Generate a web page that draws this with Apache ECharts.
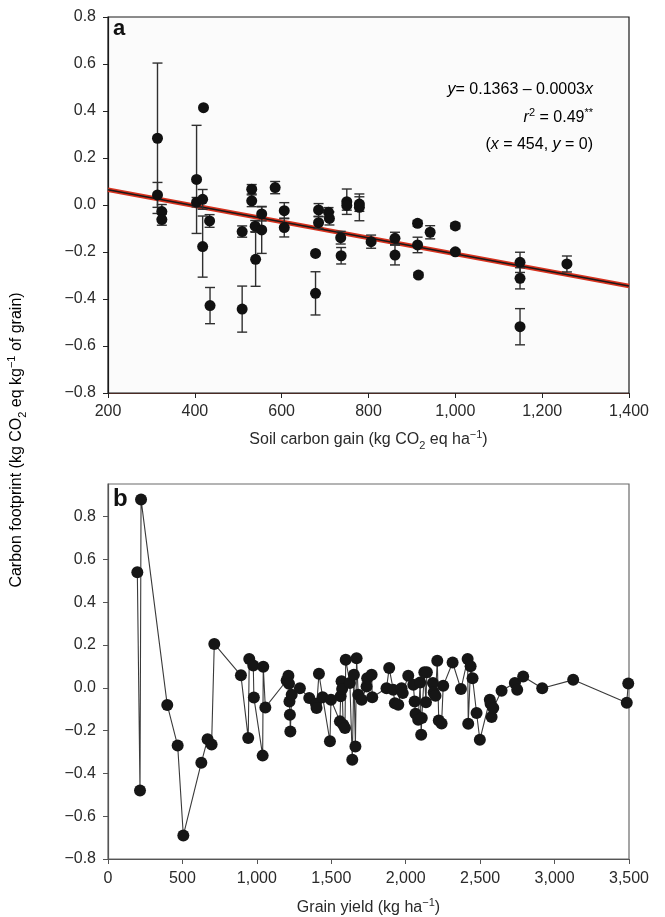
<!DOCTYPE html>
<html>
<head>
<meta charset="utf-8">
<script src="https://cdn.jsdelivr.net/npm/echarts@6/dist/echarts.min.js"></script>
<style>
html,body{margin:0;padding:0;background:#fff;}
#c{width:665px;height:917px;}
</style>
</head>
<body>
<div id="c"></div>
<script>
// ---- Panel a: soil carbon gain vs carbon footprint (mean ± error) ----
const aX   = [314, 314, 324, 324, 404, 404, 418, 420, 418, 434, 435, 509, 509, 531, 531, 539, 540, 554, 554, 585, 606, 606, 678, 678, 685, 685, 708, 710, 736, 737, 750, 750, 779, 779, 806, 861, 861, 913, 913, 915, 942, 1000, 1000, 1149, 1149, 1149, 1257];
const aY   = [0.284, 0.043, -0.028, -0.062, 0.109, 0.012, 0.024, 0.414, -0.177, -0.068, -0.428, -0.113, -0.443, 0.067, 0.018, -0.090, -0.231, -0.038, -0.106, 0.074, -0.024, -0.096, -0.206, -0.376, -0.021, -0.075, -0.031, -0.057, -0.139, -0.216, 0.014, -0.002, 0.004, -0.010, -0.156, -0.142, -0.213, -0.078, -0.170, -0.298, -0.116, -0.089, -0.199, -0.244, -0.312, -0.518, -0.251];
const aErr = [0.32, 0.053, 0.030, 0.024, 0.23, 0.020, 0.042, 0, 0.13, 0.027, 0.077, 0.024, 0.098, 0.020, 0.025, 0.024, 0.115, 0.030, 0.10, 0.026, 0.034, 0.040, 0, 0.092, 0.027, 0.025, 0.020, 0.028, 0.027, 0.035, 0.054, 0.020, 0.031, 0.057, 0.028, 0.026, 0.042, 0.012, 0.033, 0.010, 0.028, 0.012, 0.008, 0.043, 0.045, 0.077, 0.034];
// fitted line as drawn (end points)
const fitX = [200, 1400];
const fitY = [0.065, -0.345];
const aXTicks = [200, 400, 600, 800, 1000, 1200, 1400];
const yTicks = [-0.8, -0.6, -0.4, -0.2, 0.0, 0.2, 0.4, 0.6, 0.8];

// ---- Panel b: grain yield vs carbon footprint ----
const bX = [197,215,222,398,468,506,627,669,696,714,893,942,949,976,980,1039,1043,1057,1200,1212,1216,1219,1222,1225,1234,1289,1352,1397,1401,1417,1442,1491,1498,1558,1563,1569,1573,1580,1592,1597,1625,1641,1652,1662,1670,1681,1704,1737,1741,1771,1775,1871,1889,1916,1927,1950,1972,1980,2017,2051,2060,2066,2084,2097,2104,2108,2125,2136,2142,2183,2188,2200,2212,2222,2241,2252,2315,2371,2416,2420,2436,2449,2476,2498,2565,2570,2577,2588,2644,2733,2749,2789,2917,3125,3485,3495];
const bY = [0.54,-0.48,0.88,-0.08,-0.27,-0.69,-0.35,-0.24,-0.265,0.205,0.058,-0.235,0.134,0.104,-0.046,-0.317,0.098,-0.092,0.034,0.056,0.019,-0.064,-0.126,-0.204,-0.033,-0.002,-0.048,-0.075,-0.095,0.065,-0.044,-0.25,-0.056,-0.157,-0.04,0.03,-0.006,-0.173,-0.188,0.131,0.022,-0.336,0.061,-0.274,0.138,-0.033,-0.056,0.006,0.045,0.061,-0.044,-0.002,0.092,-0.009,-0.072,-0.079,-0.002,-0.025,0.056,0.014,-0.064,-0.121,-0.149,0.025,-0.219,-0.141,0.072,-0.068,0.072,0.022,-0.022,-0.037,0.126,-0.153,-0.167,0.009,0.118,-0.006,0.134,-0.168,0.1,0.045,-0.118,-0.243,-0.056,-0.075,-0.137,-0.095,-0.014,0.022,-0.009,0.053,-0.002,0.037,-0.07,0.02];
const bXTicks = [0, 500, 1000, 1500, 2000, 2500, 3000, 3500];

const FONT = '"Liberation Sans", Arial, Helvetica, sans-serif';
const TXT = '#2a2a2a';

function fmtY(v){ const s = Math.abs(v).toFixed(1); return (v < -1e-9 ? '\u2212' : '') + s; }
function fmtX(v){ return Math.round(v).toLocaleString('en-US'); }

const rich = {
  t:   {fontSize: 16, fontFamily: FONT, color: TXT, lineHeight: 22},
  i:   {fontSize: 16, fontFamily: FONT, color: TXT, lineHeight: 22, fontStyle: 'italic'},
  sub: {fontSize: 11, fontFamily: FONT, color: TXT, verticalAlign: 'bottom', lineHeight: 14},
  sup: {fontSize: 11, fontFamily: FONT, color: TXT, verticalAlign: 'top', lineHeight: 14}
};

const aPoints = aX.map((x, k) => [x, aY[k], aErr[k]]);
const bPoints = bX.map((x, k) => [x, bY[k]]);
const fitPts  = fitX.map((x, k) => [x, fitY[k]]);

const chart = echarts.init(document.getElementById('c'), null, {renderer: 'canvas'});

const axisCommon = {
  axisLabel: {fontSize: 16, fontFamily: FONT, color: TXT},
  axisTick: {show: true, inside: false, length: 5, lineStyle: {color: '#222'}},
  splitLine: {show: false}
};

chart.setOption({
  animation: false,
  backgroundColor: '#ffffff',
  grid: [
    {left: 108, right: 36, top: 17, height: 376, show: true, backgroundColor: '#fbfbfb', borderColor: '#1a1a1a', borderWidth: 1.2},
    {left: 108, right: 36, top: 484, height: 376, show: true, backgroundColor: '#ffffff', borderColor: '#6a6a6a', borderWidth: 1.2}
  ],
  xAxis: [
    Object.assign({}, axisCommon, {
      gridIndex: 0, type: 'value', min: 200, max: 1400, interval: 200,
      axisLine: {show: true, onZero: false, lineStyle: {color: '#4a2a24', width: 1.2}},
      axisLabel: Object.assign({}, axisCommon.axisLabel, {margin: 11, formatter: fmtX, customValues: aXTicks}),
      axisTick: Object.assign({}, axisCommon.axisTick, {customValues: aXTicks}),
      name: '{t|Soil carbon gain (kg CO}{sub|2}{t| eq ha}{sup|\u22121}{t|)}',
      nameLocation: 'middle', nameGap: 36,
      nameTextStyle: {rich: rich}
    }),
    Object.assign({}, axisCommon, {
      gridIndex: 1, type: 'value', min: 0, max: 3500, interval: 500,
      axisLine: {show: true, onZero: false, lineStyle: {color: '#555', width: 1.2}},
      axisTick: {show: true, length: 5, lineStyle: {color: '#555'}, customValues: bXTicks},
      axisLabel: Object.assign({}, axisCommon.axisLabel, {margin: 12, formatter: fmtX, customValues: bXTicks}),
      name: '{t|Grain yield (kg ha}{sup|\u22121}{t|)}',
      nameLocation: 'middle', nameGap: 38,
      nameTextStyle: {rich: rich}
    })
  ],
  yAxis: [
    Object.assign({}, axisCommon, {
      gridIndex: 0, type: 'value', min: -0.8, max: 0.8, interval: 0.2,
      axisLine: {show: true, onZero: false, lineStyle: {color: '#1a1a1a', width: 1.2}},
      axisLabel: Object.assign({}, axisCommon.axisLabel, {margin: 12, formatter: fmtY, customValues: yTicks}),
      axisTick: Object.assign({}, axisCommon.axisTick, {customValues: yTicks})
    }),
    Object.assign({}, axisCommon, {
      gridIndex: 1, type: 'value', min: -0.8, max: 0.952,
      axisLine: {show: true, onZero: false, lineStyle: {color: '#555', width: 1.2}},
      axisLabel: Object.assign({}, axisCommon.axisLabel, {margin: 12, formatter: fmtY, customValues: yTicks}),
      axisTick: {show: true, length: 5, lineStyle: {color: '#555'}, customValues: yTicks}
    })
  ],
  series: [
    {
      type: 'line', xAxisIndex: 0, yAxisIndex: 0, data: fitPts, showSymbol: false, symbol: 'none',
      lineStyle: {color: '#d8321e', width: 4.5}, z: 2, silent: true
    },
    {
      type: 'line', xAxisIndex: 0, yAxisIndex: 0, data: fitPts, showSymbol: false, symbol: 'none',
      lineStyle: {color: '#1a1a1a', width: 1.6}, z: 3, silent: true
    },
    {
      type: 'custom', xAxisIndex: 0, yAxisIndex: 0, data: aPoints, z: 4,
      encode: {x: 0, y: 1},
      renderItem: function(params, api){
        const x = api.value(0), y = api.value(1), e = api.value(2);
        if (!e) return {type: 'group', children: []};
        const top = api.coord([x, y + e]);
        const bot = api.coord([x, y - e]);
        const hw = 5;
        const st = {stroke: '#2f2f2f', lineWidth: 1.4};
        return {type: 'group', children: [
          {type: 'line', shape: {x1: top[0], y1: top[1], x2: bot[0], y2: bot[1]}, style: st},
          {type: 'line', shape: {x1: top[0] - hw, y1: top[1], x2: top[0] + hw, y2: top[1]}, style: st},
          {type: 'line', shape: {x1: bot[0] - hw, y1: bot[1], x2: bot[0] + hw, y2: bot[1]}, style: st}
        ]};
      }
    },
    {
      type: 'scatter', xAxisIndex: 0, yAxisIndex: 0, data: aPoints, symbol: 'circle', symbolSize: 11,
      itemStyle: {color: '#111', opacity: 1}, z: 5
    },
    {
      type: 'line', xAxisIndex: 1, yAxisIndex: 1, data: bPoints, symbol: 'circle', symbolSize: 12,
      showAllSymbol: true, clip: false,
      lineStyle: {color: '#3a3a3a', width: 1.1},
      itemStyle: {color: '#161616', borderWidth: 0, opacity: 1}, z: 5
    }
  ],
  graphic: [
    {type: 'text', left: 113, top: 18, style: {text: 'a', font: 'bold 22px ' + FONT, fill: '#111'}},
    {type: 'text', left: 113, top: 487, style: {text: 'b', font: 'bold 24px ' + FONT, fill: '#111'}},
    {type: 'text', x: 593, y: 90, style: {
      text: '{i|y}{t|= 0.1363 \u2013 0.0003}{i|x}', rich: rich, align: 'right', verticalAlign: 'middle'}},
    {type: 'text', x: 593, y: 118, style: {
      text: '{i|r}{sup|2}{t| = 0.49}{sup|**}', rich: rich, align: 'right', verticalAlign: 'middle'}},
    {type: 'text', x: 593, y: 145, style: {
      text: '{t|(}{i|x}{t| = 454, }{i|y}{t| = 0)}', rich: rich, align: 'right', verticalAlign: 'middle'}},
    {type: 'text', x: 17, y: 440, rotation: Math.PI / 2, style: {
      text: '{t|Carbon footprint (kg CO}{sub|2}{t| eq kg}{sup|\u22121}{t| of grain)}',
      rich: rich, align: 'center', verticalAlign: 'middle'}}
  ]
});
</script>
</body>
</html>
